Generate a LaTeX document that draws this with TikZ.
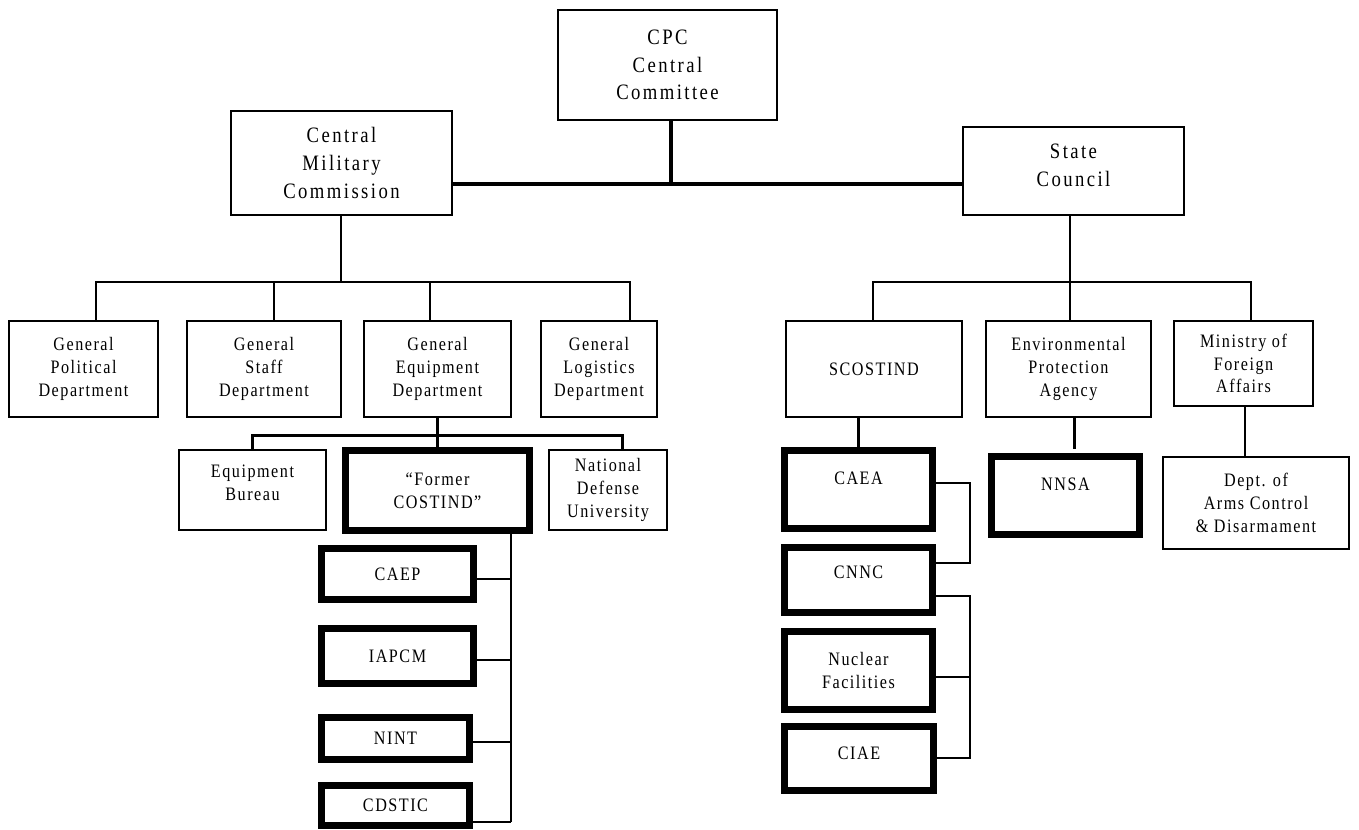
\documentclass[tikz,border=0pt]{standalone}
\usepackage{fontspec}
\newfontfamily\lsfont{Liberation Serif}[LetterSpace=8,FakeStretch=0.85]
\newfontfamily\lsbigfont{Liberation Serif}[LetterSpace=11,FakeStretch=0.85]
\newcommand\orgbox[8]{%
  \node[#2, minimum width={(#5-#3-#7)*0.75pt}, minimum height={(#6-#4-#7)*0.75pt}] (#1) at ({(#3+#5)/2},{(#4+#6)/2}) {#8};}
\tikzset{
  base/.style={draw=black, fill=white, align=center, inner sep=1pt, text=black},
  smallfont/.style={font=\lsfont\fontsize{14.25}{17}\selectfont},
  bigfont/.style={font=\lsbigfont\fontsize{16.5}{20.8}\selectfont},
  thinbox/.style={base, smallfont, line width=1.5pt},
  topbox/.style={base, bigfont, line width=1.5pt},
  thickbox/.style={base, smallfont, line width=5.25pt},
  fineline/.style={line width=1pt},
  midline/.style={line width=1.5pt},
  boldline/.style={line width=2.25pt},
  heavyline/.style={line width=2.5pt}
}
\begin{document}
\begin{tikzpicture}[x=0.75pt,y=-0.75pt]
\useasboundingbox[fill=white] (0,0) rectangle (1359,830);
% top level
\orgbox{CPC}{topbox}{557}{9}{778}{121}{2}{CPC\\Central\\Committee}
\orgbox{CMC}{topbox}{230}{110}{453}{216}{2}{Central\\Military\\Commission}
\orgbox{SC}{topbox}{962}{126}{1185}{216}{2}{State\\Council\\[-12pt]\mbox{}}
% CMC departments
\orgbox{GPD}{thinbox}{8}{320}{159}{418}{2}{General\\Political\\Department}
\orgbox{GSD}{thinbox}{186}{320}{342}{418}{2}{General\\Staff\\Department}
\orgbox{GED}{thinbox}{363}{320}{512}{418}{2}{General\\Equipment\\Department}
\orgbox{GLD}{thinbox}{540}{320}{658}{418}{2}{General\\Logistics\\Department}
% State council
\orgbox{SCO}{thinbox}{785}{320}{963}{418}{2}{SCOSTIND}
\orgbox{EPA}{thinbox}{985}{320}{1152}{418}{2}{Environmental\\Protection\\Agency}
\orgbox{MFA}{thinbox}{1173}{320}{1314}{407}{2}{Ministry of\\Foreign\\Affairs}
% GED children
\orgbox{EB}{thinbox}{178}{449}{327}{531}{2}{Equipment\\Bureau\\[-6pt]\mbox{}}
\orgbox{FC}{thickbox}{342}{447}{533}{534}{7}{“Former\\COSTIND”}
\orgbox{NDU}{thinbox}{548}{449}{668}{531}{2}{National\\Defense\\University}
% COSTIND institutes
\orgbox{CAEP}{thickbox}{318}{545}{477}{603}{7}{CAEP}
\orgbox{IAPCM}{thickbox}{318}{625}{477}{687}{7}{IAPCM}
\orgbox{NINT}{thickbox}{318}{714}{473}{763}{7}{NINT}
\orgbox{CDSTIC}{thickbox}{318}{782}{473}{829}{7}{CDSTIC}
% SCOSTIND side
\orgbox{CAEA}{thickbox}{781}{447}{936}{532}{7}{CAEA\\\mbox{}}
\orgbox{CNNC}{thickbox}{781}{544}{936}{616}{7}{CNNC\\[-6pt]\mbox{}}
\orgbox{NF}{thickbox}{781}{628}{936}{713}{7}{Nuclear\\Facilities}
\orgbox{CIAE}{thickbox}{781}{723}{937}{794}{7}{CIAE\\[-9pt]\mbox{}}
\orgbox{NNSA}{thickbox}{988}{453}{1143}{538}{7}{NNSA\\\mbox{}}
\orgbox{DACD}{thinbox}{1162}{456}{1350}{550}{2}{Dept. of\\Arms Control\\\& Disarmament}
% coordinates
\coordinate (j1) at (671,184);
\coordinate (b1) at (96,282);
\coordinate (b2) at (274,282);
\coordinate (b3) at (430,282);
\coordinate (b4) at (630,282);
\coordinate (bc) at (341,282);
\coordinate (e1) at (252,435);
\coordinate (e2) at (622,435);
\coordinate (ge) at (437,435);
\coordinate (r1) at (873,282);
\coordinate (r2) at (1070,282);
\coordinate (r3) at (1251,282);
\coordinate (v1) at (511,579);
\coordinate (v2) at (511,660);
\coordinate (v3) at (511,742);
\coordinate (v4) at (511,822);
\coordinate (s1) at (970,483);
\coordinate (s2) at (970,563);
\coordinate (s3) at (970,596);
\coordinate (s4) at (970,677);
\coordinate (s5) at (970,758);
\coordinate (n1) at (1074,449);
\coordinate (sc1) at (858,0);
\coordinate (m1) at (1245,0);
% top connectors
\draw[heavyline] (CPC.south -| j1) -- (j1);
\draw[heavyline] (CMC.east |- j1) -- (SC.west |- j1);
% CMC bus
\draw[fineline] (CMC.south -| bc) -- (bc);
\draw[fineline] (b1 |- GPD.north) -- (b1) -- (b4) -- (b4 |- GLD.north);
\draw[fineline] (b2) -- (b2 |- GSD.north);
\draw[fineline] (b3) -- (b3 |- GED.north);
% GED bus
\draw[boldline] (GED.south -| ge) -- (FC.north -| ge);
\draw[boldline] (e1 |- EB.north) -- (e1) -- (e2) -- (e2 |- NDU.north);
% COSTIND line
\draw[line width=2pt] (FC.south -| v1) -- (v4);
\draw[line width=2pt] (v1) -- (v1 -| CAEP.east);
\draw[line width=2pt] (v2) -- (v2 -| IAPCM.east);
\draw[line width=2pt] (v3) -- (v3 -| NINT.east);
\draw[line width=2pt] (v4) -- (v4 -| CDSTIC.east);
% State Council bus
\draw[fineline] (SC.south -| r2) -- (r2) -- (r2 |- EPA.north);
\draw[fineline] (r1 |- SCO.north) -- (r1) -- (r3) -- (r3 |- MFA.north);
% SC children
\draw[boldline] (SCO.south -| sc1) -- (CAEA.north -| sc1);
\draw[boldline] (EPA.south -| n1) -- (n1);
\draw[fineline] (MFA.south -| m1) -- (DACD.north -| m1);
% brackets
\draw[midline] (s1 -| CAEA.east) -- (s1) -- (s2) -- (s2 -| CNNC.east);
\draw[midline] (s3 -| CNNC.east) -- (s3) -- (s5) -- (s5 -| CIAE.east);
\draw[midline] (s4) -- (s4 -| NF.east);
\end{tikzpicture}
\end{document}
